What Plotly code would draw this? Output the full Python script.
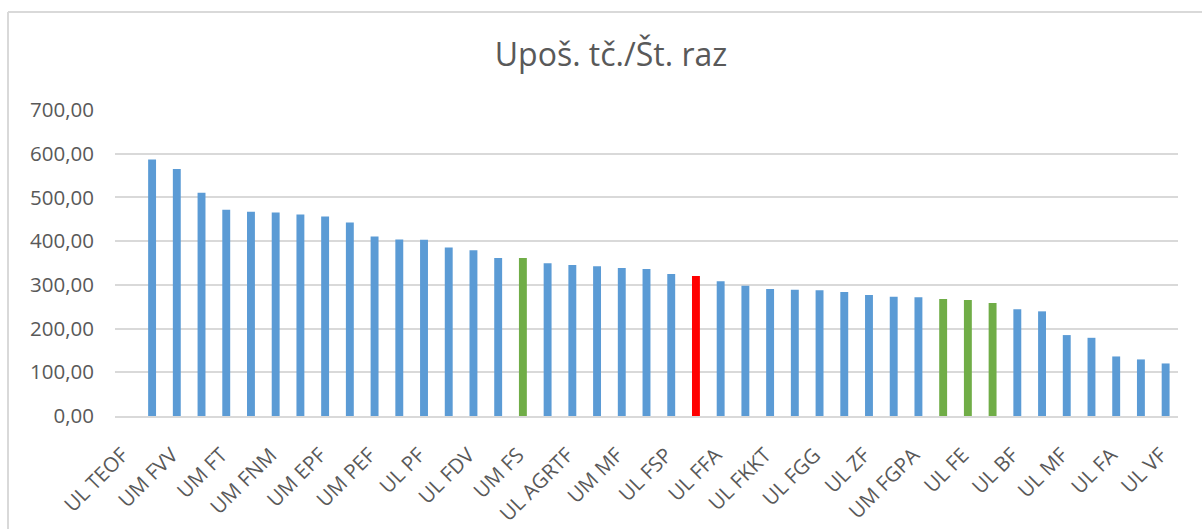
import plotly.graph_objects as go

categories = [
    "UL TEOF", "UL FMF", "UM FVV", "UM PF", "UM FT", "UL EF", "UM FNM", "UM FF",
    "UM EPF", "UM FOV", "UM PEF", "UL FF", "UL PF", "UL NTF", "UL FDV", "UM FKKT",
    "UM FS", "UM FKBV", "UL AGRTF", "UL FU", "UM MF", "UM FZV", "UL FSP", "UL FRI",
    "UL FFA", "UL ALUO", "UL FKKT", "UM FL", "UL FGG", "UL FSD", "UL ZF", "UL AG",
    "UM FGPA", "UL FS", "UL FE", "UM FERI", "UL BF", "UL PEF", "UL MF", "UL FŠ",
    "UL FA", "UM FE", "UL VF",
]
values = [
    0, 586.5, 565.1, 510.8, 471.8, 467.2, 465.6, 461.0,
    456.4, 442.7, 410.6, 403.7, 403.0, 385.3, 379.3, 361.7,
    361.7, 349.5, 345.6, 342.6, 338.8, 336.5, 325.0, 320.4,
    308.3, 298.2, 290.6, 289.0, 287.6, 283.7, 276.8, 272.9,
    271.6, 267.7, 265.4, 258.5, 244.0, 239.4, 185.1, 178.9,
    136.2, 129.4, 120.2,
]
green_categories = ["UM FS", "UL FS", "UL FE", "UM FERI"]
red_categories = ["UL FRI"]
shown_labels = categories[::2]
y_ticks = [0, 100, 200, 300, 400, 500, 600, 700]
y_tick_text = ["0,00", "100,00", "200,00", "300,00", "400,00", "500,00", "600,00", "700,00"]

BLUE, GREEN, RED = "#5B9BD5", "#70AD47", "#FF0000"
colors = [GREEN if c in green_categories else RED if c in red_categories else BLUE
          for c in categories]

fig = go.Figure(go.Bar(
    x=categories, y=values,
    marker=dict(color=colors, line=dict(width=0)),
    hoverinfo="skip",
))

W, H = 1202, 529
ml, mr, mt, mb = 115, 24, 110, 113
pw, ph = W - ml - mr, H - mt - mb

def px_to_paper_x(px):
    return (px - ml) / pw

def px_to_paper_y(py):
    return (H - mb - py) / ph

fig.update_layout(
    width=W, height=H,
    margin=dict(l=ml, r=mr, t=mt, b=mb, autoexpand=False),
    paper_bgcolor="white", plot_bgcolor="white",
    bargap=0.68,
    showlegend=False,
    font=dict(family="Open Sans", color="#595959"),
    title=dict(
        text="Upoš. tč./Št. raz",
        x=611 / W, xanchor="center",
        y=1 - 55 / H, yanchor="middle",
        xref="container", yref="container",
        font=dict(family="Open Sans", size=32, color="#595959"),
    ),
    xaxis=dict(
        type="category", automargin=False,
        tickmode="array", tickvals=shown_labels, ticktext=shown_labels,
        tickangle=-45,
        tickfont=dict(family="Open Sans", size=20.5, color="#595959"),
        showgrid=False, showline=True, linecolor="#D9D9D9", linewidth=2,
        ticks="", ticklabelstandoff=17, ticklabelshift=-5,
    ),
    yaxis=dict(
        range=[0, 700], automargin=False,
        tickmode="array", tickvals=y_ticks, ticktext=y_tick_text,
        tickfont=dict(family="Open Sans", size=20.5, color="#595959"),
        showgrid=True, gridcolor="#D9D9D9", gridwidth=1.5,
        zeroline=False, showline=False, ticks="",
        ticklabelstandoff=20,
    ),
    shapes=[
        dict(type="line", xref="paper", yref="paper",
             x0=px_to_paper_x(8), x1=px_to_paper_x(8),
             y0=px_to_paper_y(12), y1=px_to_paper_y(540),
             line=dict(color="#D9D9D9", width=2)),
        dict(type="line", xref="paper", yref="paper",
             x0=px_to_paper_x(8), x1=px_to_paper_x(1220),
             y0=px_to_paper_y(12), y1=px_to_paper_y(12),
             line=dict(color="#D9D9D9", width=2)),
    ],
)

fig.write_html(
    "out.html",
    config={"displayModeBar": False},
    post_script="document.body.style.margin='0';document.body.style.overflow='hidden';",
)
